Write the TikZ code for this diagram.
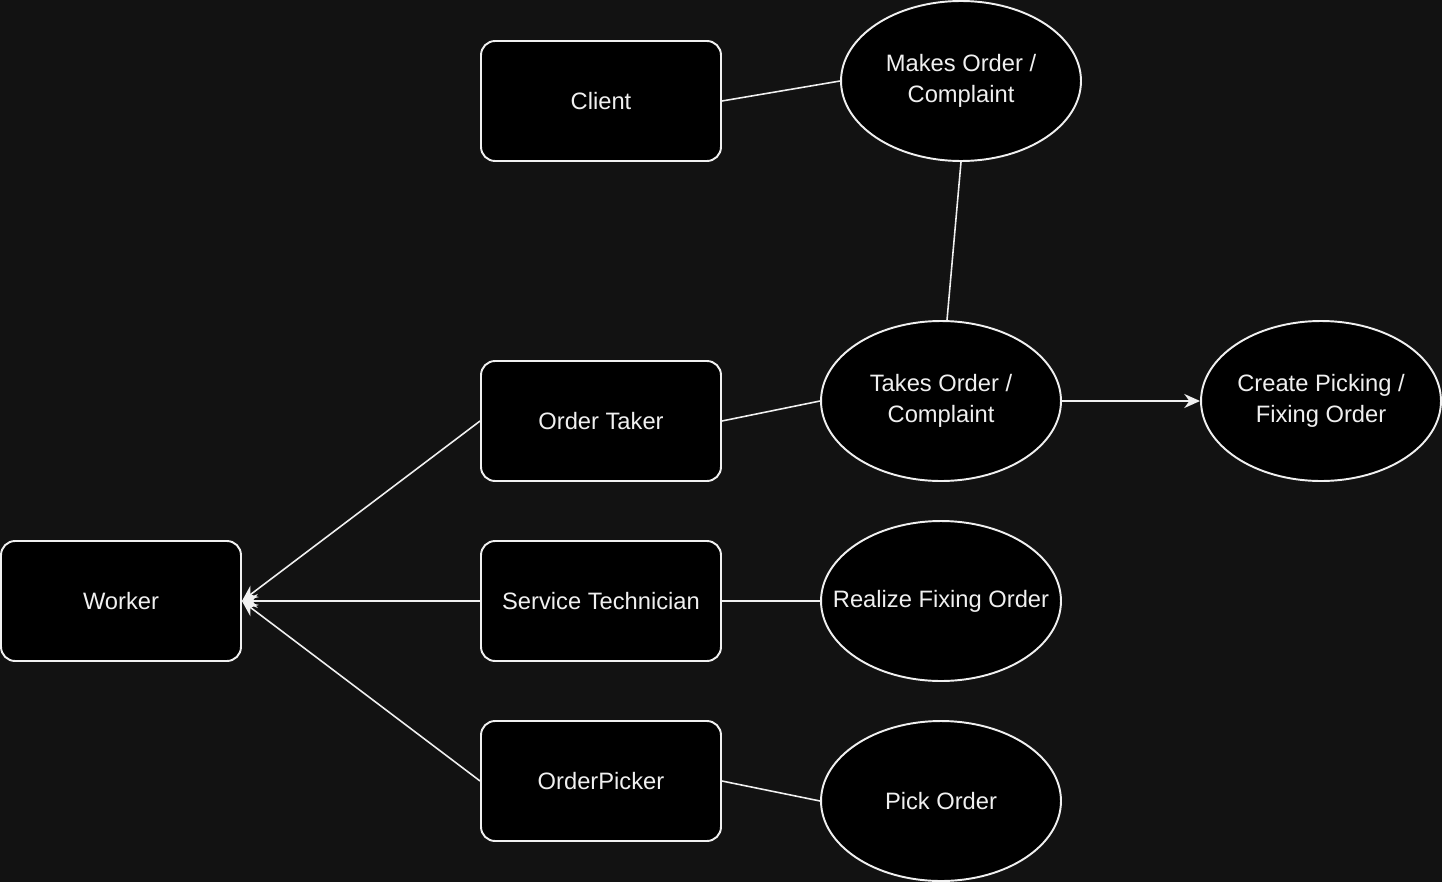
\documentclass[tikz,border=0pt]{standalone}
\usepackage{fontspec}
\setmainfont{Liberation Sans}
\usetikzlibrary{arrows.meta,shapes.geometric}
\definecolor{bgdark}{HTML}{121212}
\definecolor{fgline}{HTML}{F0F0F0}
\begin{document}
\begin{tikzpicture}[x=0.02cm,y=-0.02cm,
  actor/.style={draw=fgline,line width=1.1pt,fill=black,rounded corners=8pt,minimum width=4.8cm,minimum height=2.4cm,text=fgline,font=\fontsize{13.5}{17.5}\selectfont},
  usecase/.style={draw=fgline,line width=1.1pt,fill=black,ellipse,minimum width=4.8cm,minimum height=3.2cm,inner sep=0pt,text=fgline,align=center,font=\fontsize{13.5}{17.5}\selectfont},
  link/.style={draw=fgline,line width=0.9pt},
  tip/.style={link,-{Stealth[length=9pt,width=8pt]}}]
\fill[bgdark](0,0)rectangle(1442,882);
\node[actor](client) at(601,101){Client};
\node[actor](taker) at(601,421){Order Taker};
\node[actor](tech) at(601,601){Service Technician};
\node[actor](picker) at(601,781){OrderPicker};
\node[actor](worker) at(121,601){Worker};
\node[usecase](makes) at(961,81){Makes Order /\\Complaint};
\node[usecase](takes) at(941,401){Takes Order /\\Complaint};
\node[usecase](create) at(1321,401){Create Picking /\\Fixing Order};
\node[usecase](fixing) at(941,601){\makebox[0pt]{Realize Fixing Order}};
\node[usecase](pick) at(941,801){Pick Order};
\draw[link](client.east)--(makes.west);
\draw[link](makes.south)--([xshift=0.12cm]takes.north);
\draw[link](taker.east)--(takes.west);
\draw[tip](takes.east)--(create.west);
\draw[tip](taker.west)--(worker.east);
\draw[tip](tech.west)--(worker.east);
\draw[tip](picker.west)--(worker.east);
\draw[link](tech.east)--(fixing.west);
\draw[link](picker.east)--(pick.west);
\end{tikzpicture}
\end{document}
